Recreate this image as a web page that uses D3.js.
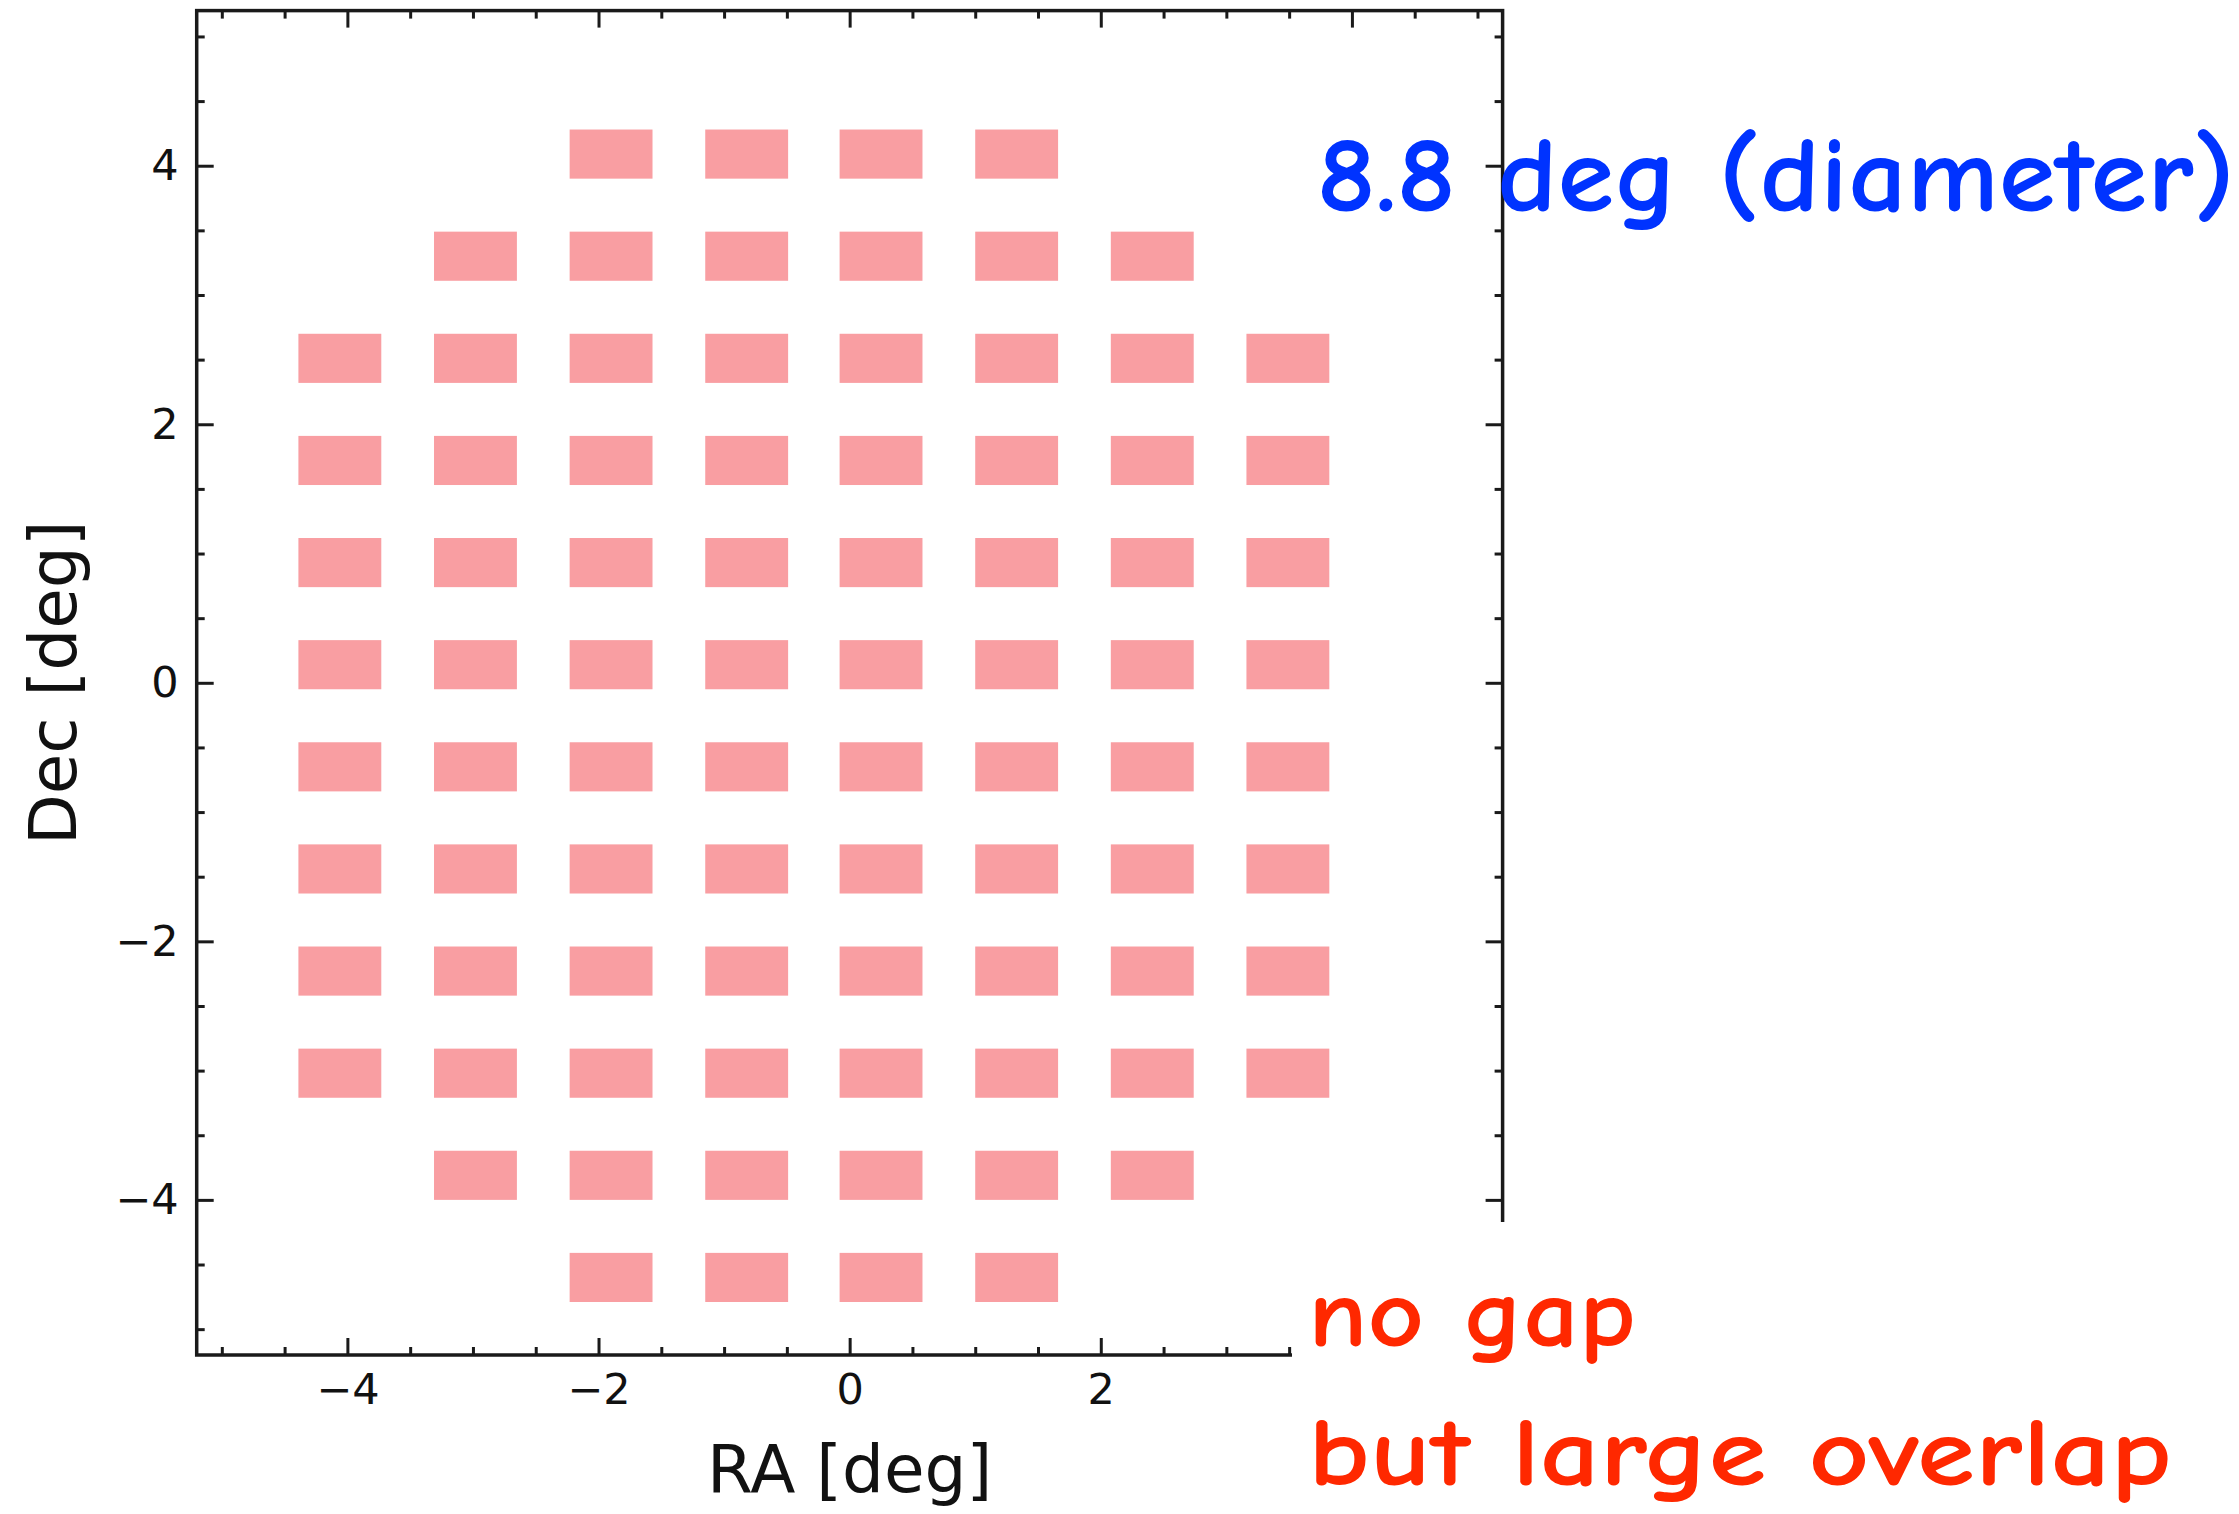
<!DOCTYPE html>
<html>
<head>
<meta charset="utf-8">
<script src="https://cdn.jsdelivr.net/npm/d3@7"></script>
<style>
  body { margin: 0; background: #fff; }
  .tick text { font-family: "DejaVu Sans", sans-serif; }
</style>
</head>
<body>
<div id="chart"></div>
<script>
// chip centres in RA / Dec (deg)
const raCols = [-4.06, -2.98, -1.90, -0.82, 0.25, 1.33, 2.41, 3.49];
const decRows = [4.09, 3.30, 2.51, 1.72, 0.93, 0.14, -0.65, -1.44, -2.23, -3.02, -3.81, -4.60];
// first and last filled column in every row
const rowFirstCol = [2, 1, 0, 0, 0, 0, 0, 0, 0, 0, 1, 2];
const rowLastCol = [5, 6, 7, 7, 7, 7, 7, 7, 7, 7, 6, 5];
const chipW = 0.66, chipH = 0.38;

const majorTicks = [-4, -2, 0, 2, 4];
const minorTicks = [-5, -4.5, -3.5, -3, -2.5, -1.5, -1, -0.5, 0.5, 1, 1.5, 2.5, 3, 3.5, 4.5, 5];

const W = 2239, H = 1514;
const plot = {left: 196.7, top: 10.6, right: 1502.6, bottom: 1355};
const noteBox = {x: 1292, y: 1222};

const svg = d3.select("#chart").append("svg")
    .attr("width", W).attr("height", H);

const x = d3.scaleLinear().domain([-5.2, 5.2]).range([plot.left, plot.right]);
const y = d3.scaleLinear().domain([-5.2, 5.2]).range([plot.bottom, plot.top]);

// chips
const chips = [];
decRows.forEach((dec, r) => {
    for (let c = rowFirstCol[r]; c <= rowLastCol[r]; c++) chips.push({ra: raCols[c], dec: dec});
});

svg.append("g").selectAll("rect")
    .data(chips)
    .enter()
    .append("rect")
    .attr("x", d => x(d.ra - chipW / 2))
    .attr("y", d => y(d.dec + chipH / 2))
    .attr("width", d => x(d.ra + chipW / 2) - x(d.ra - chipW / 2))
    .attr("height", d => y(d.dec - chipH / 2) - y(d.dec + chipH / 2))
    .style("fill", "#f99ea2");

// axes, ticks pointing in on all four sides
function styleAxis(g) {
    g.select(".domain").remove();
    g.selectAll(".tick line").style("stroke", "#1a1a1a").style("stroke-width", 3);
    g.selectAll(".tick text").style("font-size", "43px").style("fill", "#111");
}

function addAxis(axisFn, scale, transform, size, ticks, labels) {
    return svg.append("g")
        .attr("transform", transform)
        .call(axisFn(scale).tickValues(ticks).tickSizeInner(size).tickSizeOuter(0)
            .tickPadding(18).tickFormat(labels ? d3.format("") : ""))
        .call(styleAxis);
}

const xAxisG = addAxis(d3.axisBottom, x, `translate(0,${plot.bottom})`, -17, majorTicks, true);
// the note box covers the lower right corner, so the label under it is not drawn
xAxisG.selectAll(".tick").filter(d => x(d) > noteBox.x).select("text").remove();
addAxis(d3.axisBottom, x, `translate(0,${plot.bottom})`, -8, minorTicks, false);
addAxis(d3.axisTop, x, `translate(0,${plot.top})`, -17, majorTicks, false);
addAxis(d3.axisTop, x, `translate(0,${plot.top})`, -8, minorTicks, false);
addAxis(d3.axisLeft, y, `translate(${plot.left},0)`, -17, majorTicks, true);
addAxis(d3.axisLeft, y, `translate(${plot.left},0)`, -8, minorTicks, false);
addAxis(d3.axisRight, y, `translate(${plot.right},0)`, -17, majorTicks, false);
addAxis(d3.axisRight, y, `translate(${plot.right},0)`, -8, minorTicks, false);

// frame
svg.append("rect")
    .attr("x", plot.left).attr("y", plot.top)
    .attr("width", plot.right - plot.left).attr("height", plot.bottom - plot.top)
    .style("fill", "none").style("stroke", "#1a1a1a").style("stroke-width", 3.5);

// axis labels
svg.append("text")
    .attr("x", x(0)).attr("y", 1492)
    .style("text-anchor", "middle")
    .style("font-family", "DejaVu Sans, sans-serif").style("font-size", "66px").style("fill", "#111")
    .text("RA [deg]");

svg.append("text")
    .attr("transform", `translate(76,${y(0)}) rotate(-90)`)
    .style("text-anchor", "middle")
    .style("font-family", "DejaVu Sans, sans-serif").style("font-size", "66px").style("fill", "#111")
    .text("Dec [deg]");

// white box behind the red note hides the lower right corner
svg.append("rect")
    .attr("x", noteBox.x).attr("y", noteBox.y)
    .attr("width", W - noteBox.x).attr("height", H - noteBox.y)
    .style("fill", "#fff");

const noteFont = "'Comic Sans MS', 'Comic Neue', Lato, sans-serif";

svg.append("text")
    .attr("x", 1317).attr("y", 211)
    .attr("textLength", 918).attr("lengthAdjust", "spacingAndGlyphs")
    .style("font-family", noteFont).style("font-size", "108px").style("font-weight", "bold")
    .style("fill", "#0033ff")
    .text("8.8 deg (diameter)");

svg.append("text")
    .attr("x", 1308).attr("y", 1346)
    .attr("textLength", 328).attr("lengthAdjust", "spacingAndGlyphs")
    .style("font-family", noteFont).style("font-size", "98px").style("font-weight", "bold")
    .style("fill", "#ff2800")
    .text("no gap");

svg.append("text")
    .attr("x", 1308).attr("y", 1485)
    .attr("textLength", 864).attr("lengthAdjust", "spacingAndGlyphs")
    .style("font-family", noteFont).style("font-size", "98px").style("font-weight", "bold")
    .style("fill", "#ff2800")
    .text("but large overlap");
</script>
</body>
</html>
